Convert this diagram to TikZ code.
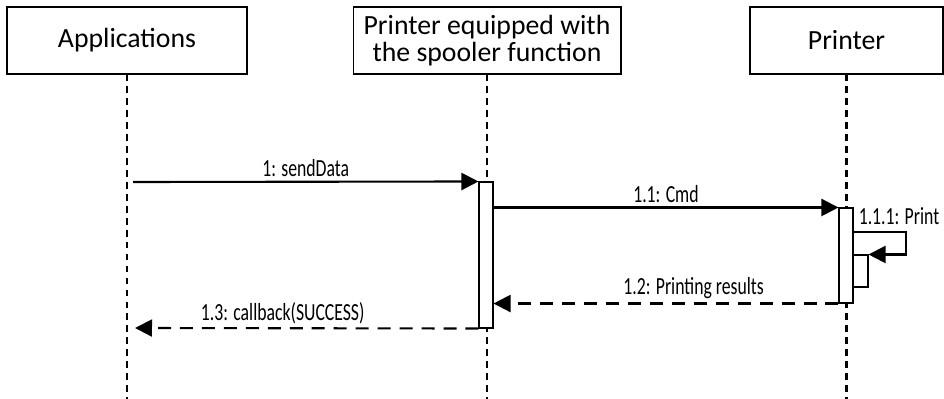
\documentclass[tikz,border=0pt]{standalone}
\usepackage{fontspec}
\setmainfont{Carlito}
\newfontfamily\msgfont{Carlito}[FakeStretch=0.72]
\usetikzlibrary{arrows.meta, positioning}

\begin{document}
\begin{tikzpicture}[x=0.02cm, y=-0.02cm,
		lifebox/.style={draw, line width=0.6pt, minimum height=1.34cm, align=center, font=\fontsize{15.8}{15.6}\selectfont, inner sep=0pt},
		lifeline/.style={line width=1.2pt, dash pattern=on 3.8pt off 3pt},
		actbar/.style={draw, fill=white, line width=0.6pt, minimum width=0.28cm, inner sep=0pt},
		msg/.style={line width=1.2pt, -{Triangle[length=0.34cm, width=0.34cm]}},
		reply/.style={msg, dash pattern=on 7.4pt off 5.1pt},
		msglabel/.style={font=\msgfont\fontsize{14}{14}\selectfont, inner sep=2pt}]
				\useasboundingbox (0,0) rectangle (944,399);
				% participants
				\node[lifebox, minimum width=4.8cm] (app) at (127,40.5) {Applications};
				\node[lifebox, minimum width=5.36cm] (spool) at (487,40.5) {Printer equipped with\\the spooler function};
				\node[lifebox, minimum width=3.86cm] (prn) at (846.5,40.5) {Printer};
				\coordinate (append) at (127,399);
				\coordinate (spoolend) at (487,399);
				\coordinate (prnend) at (846.5,399);
				\draw[lifeline] (app.south) -- (append);
				\draw[lifeline] (spool.south) -- (spoolend);
				\draw[lifeline] (prn.south) -- (prnend);
				% activations
				\node[actbar, minimum height=2.92cm] (spoolbar) at (486,255) {};
				\node[actbar, minimum height=1.9cm] (prnbar) at (846,255.5) {};
				\node[actbar, minimum width=0.3cm, minimum height=0.64cm] (prnsub) at (860.5,271) {};
				% messages
				\coordinate (sendstart) at (133,182);
				\coordinate (cbend) at (135,328);
				\coordinate (loopturn) at (906,232);
				\draw[msg] (sendstart) -- node[msglabel, above] {1: sendData} (spoolbar.north west);
				\draw[msg] (spoolbar.east |- prnbar.north) -- node[msglabel, above] {1.1: Cmd} (prnbar.north west);
				\draw[msg] (prnbar.east |- loopturn) -- (loopturn) |- (prnsub.north east);
				\node[msglabel] (printlbl) at (899,216) {1.1.1: Print};
				\draw[reply] (prnbar.south west) -- node[msglabel, above, pos=0.42] {1.2: Printing results} (spoolbar.east |- prnbar.south west);
				\draw[reply] (spoolbar.south west) -- node[msglabel, above, pos=0.57] {1.3: callback(SUCCESS)} (cbend);
			\end{tikzpicture}
\end{document}
